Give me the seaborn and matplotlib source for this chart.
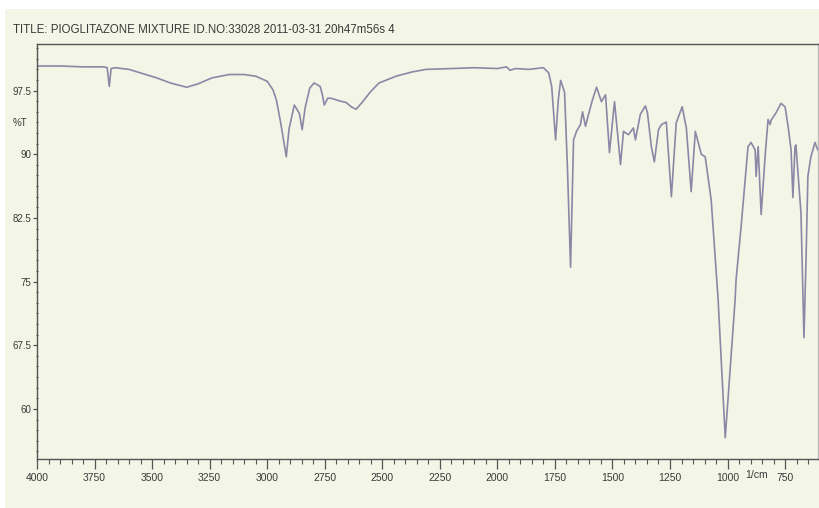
import numpy as np
import pandas as pd
import matplotlib
matplotlib.use('Agg')
import matplotlib.pyplot as plt
import matplotlib.transforms as mtransforms
from matplotlib.patches import Rectangle
from matplotlib.ticker import MultipleLocator, FixedLocator
import seaborn as sns

numero_onda = [
    4000, 3900, 3800, 3710, 3695, 3686, 3678, 3660, 3600, 3540, 3480, 3420,
    3350, 3300, 3240, 3164, 3100, 3050, 3000, 2975, 2960, 2940, 2917, 2905,
    2882, 2860, 2848, 2835, 2815, 2796, 2770, 2760, 2752, 2737, 2722, 2687,
    2657, 2635, 2614, 2588, 2550, 2514, 2440, 2371, 2310, 2200, 2100, 2000,
    1960, 1945, 1920, 1864, 1800, 1777, 1764, 1747, 1735, 1725, 1708, 1695,
    1682, 1669, 1656, 1639, 1630, 1617, 1604, 1587, 1569, 1548, 1530, 1513,
    1491, 1465, 1452, 1431, 1409, 1400, 1379, 1357, 1348, 1331, 1318, 1300,
    1287, 1266, 1244, 1223, 1197, 1179, 1158, 1140, 1114, 1097, 1071, 1041,
    1010, 967, 963, 941, 911, 898, 880, 876, 867, 854, 837, 824,
    815, 811, 789, 768, 750, 737, 724, 716, 707, 703, 681, 668,
    659, 651, 638, 620, 608,
]
transmitancia = [
    100.4, 100.4, 100.3, 100.3, 100.2, 98.0, 100.1, 100.2, 100.0, 99.5, 99.0, 98.4,
    97.9, 98.3, 99.0, 99.4, 99.4, 99.2, 98.6, 97.6, 96.4, 93.5, 89.7, 93.0,
    95.8, 94.8, 92.9, 95.5, 97.8, 98.4, 98.0, 97.0, 95.8, 96.6, 96.6, 96.3,
    96.1, 95.6, 95.3, 96.1, 97.4, 98.4, 99.2, 99.7, 100.0, 100.1, 100.2, 100.1,
    100.3, 99.9, 100.1, 100.0, 100.2, 99.6, 98.0, 91.7, 96.5, 98.7, 97.3, 88.0,
    76.7, 91.7, 92.7, 93.5, 95.0, 93.3, 94.7, 96.4, 97.9, 96.2, 97.0, 90.2,
    96.2, 88.8, 92.7, 92.3, 93.1, 91.7, 94.7, 95.7, 94.9, 90.9, 89.1, 92.9,
    93.5, 93.8, 85.0, 93.7, 95.6, 93.1, 85.6, 92.7, 90.0, 89.7, 84.6, 72.9,
    56.6, 72.9, 75.2, 81.5, 90.9, 91.4, 90.5, 87.4, 90.9, 82.9, 89.7, 94.1,
    93.5, 94.0, 94.9, 96.0, 95.6, 93.3, 90.5, 84.9, 90.9, 91.1, 83.1, 68.4,
    77.6, 87.4, 89.7, 91.4, 90.5,
]
ticks_x = [4000, 3750, 3500, 3250, 3000, 2750, 2500, 2250, 2000, 1750, 1500, 1250, 1000, 750]
ticks_y = [60, 67.5, 75, 82.5, 90, 97.5]
etiquetas_y = ['60', '67.5', '75', '82.5', '90', '97.5']
titulo = 'TITLE: PIOGLITAZONE MIXTURE ID.NO:33028 2011-03-31 20h47m56s 4'

df = pd.DataFrame({'onda': numero_onda, 'T': transmitancia})

sns.set_theme(style='ticks')
plt.rcParams['font.family'] = ['Liberation Sans', 'DejaVu Sans']

fondo = '#f3f5e6'
texto = '#3a3a3a'
eje = '#555555'

fig = plt.figure(figsize=(8.2, 5.08), dpi=100, facecolor=fondo)
# franja blanca del borde del escaneo
fig.patches.append(Rectangle((0, 1 - 9 / 508), 1, 9 / 508, transform=fig.transFigure,
                             facecolor='white', edgecolor='none', zorder=0))
fig.patches.append(Rectangle((0, 0), 5 / 820, 1, transform=fig.transFigure,
                             facecolor='white', edgecolor='none', zorder=0))

ax = fig.add_axes([37 / 820, 0.0965, 781 / 820, 0.817])
ax.set_facecolor(fondo)

sns.lineplot(data=df, x='onda', y='T', sort=False, estimator=None,
             color='#8a88a6', linewidth=1.2, ax=ax)

ax.set_xlim(4000, 607)
ax.set_ylim(54.1, 103.0)

ax.xaxis.set_major_locator(FixedLocator(ticks_x))
ax.xaxis.set_minor_locator(MultipleLocator(50))
ax.set_xticklabels([str(t) for t in ticks_x])
ax.yaxis.set_major_locator(FixedLocator(ticks_y))
ax.yaxis.set_minor_locator(MultipleLocator(1.25))
ax.set_yticklabels(etiquetas_y)

ax.tick_params(axis='x', which='major', length=7, width=0.9, color=eje,
               direction='out', labelsize=7.5, labelcolor=texto, pad=3)
ax.tick_params(axis='x', which='minor', length=3.5, width=0.8, color=eje, direction='out')
ax.tick_params(axis='y', which='major', length=3, width=0.9, color=eje,
               direction='out', labelsize=7, labelcolor=texto, pad=1)
ax.tick_params(axis='y', which='minor', length=2, width=0.8, color=eje, direction='inout')

ax.set_xlabel('')
ax.set_ylabel('')
for lado in ['left', 'bottom', 'top', 'right']:
    ax.spines[lado].set_color(eje)
    ax.spines[lado].set_linewidth(1.0)
ax.spines['right'].set_color('#b9b9b9')

# etiquetas sueltas del papel escaneado
trans_y = mtransforms.blended_transform_factory(fig.transFigure, ax.transData)
fig.text(20 / 820, 93.7, '%T', transform=trans_y, fontsize=7, color=texto,
         ha='center', va='center')
trans_x = mtransforms.blended_transform_factory(ax.transData, fig.transFigure)
fig.text(876, 1 - 475 / 508, '1/cm', transform=trans_x, fontsize=7.5, color=texto,
         ha='center', va='center')

tit = fig.text(13 / 820, 1 - 30 / 508, titulo, fontsize=12, color=texto,
               ha='left', va='center')
# ajustar el tamaño para que el titulo ocupe el mismo ancho que en el original
fig.canvas.draw()
ancho = tit.get_window_extent().width
tit.set_fontsize(12 * 382 / ancho)

fig.savefig('out.png', dpi=100, facecolor=fondo)
plt.close(fig)
